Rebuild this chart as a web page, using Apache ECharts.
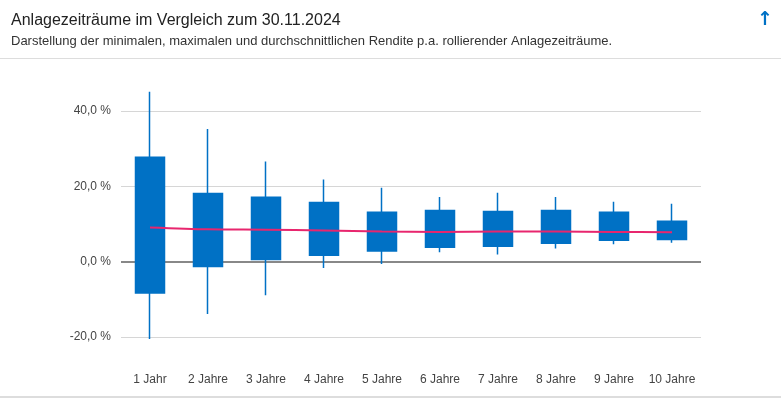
<!DOCTYPE html>
<html>
<head>
<meta charset="utf-8">
<script src="https://cdn.jsdelivr.net/npm/echarts@6/dist/echarts.min.js"></script>
<style>
  html, body { margin: 0; padding: 0; background: #fff; }
  #chart { width: 781px; height: 398px; }
</style>
</head>
<body>
<div id="chart"></div>
<script>
// Anlagezeiträume
const categories = ['1 Jahr', '2 Jahre', '3 Jahre', '4 Jahre', '5 Jahre', '6 Jahre', '7 Jahre', '8 Jahre', '9 Jahre', '10 Jahre']
// Rendite p.a. in %
const minValues = [-20.5, -13.9, -8.9, -1.7, -0.6, 2.5, 1.9, 3.5, 4.6, 5.0]
const lowValues = [-8.3, -1.3, 0.6, 1.7, 2.8, 3.8, 4.1, 4.9, 5.7, 5.9]
const highValues = [27.7, 18.1, 17.1, 15.7, 13.1, 13.6, 13.3, 13.6, 13.1, 10.7]
const maxValues = [45.1, 35.2, 26.6, 21.8, 19.6, 17.2, 18.3, 17.2, 15.9, 15.4]
const avgValues = [9.1, 8.6, 8.5, 8.3, 8.0, 7.9, 8.0, 8.0, 7.9, 7.8]
const yTicks = [-20, 0, 20, 40]

const font = '"Liberation Sans", Arial, sans-serif'
const blue = '#0071c5'

const chart = echarts.init(document.getElementById('chart'))
const option = {
  animation: false,
  title: {
    text: 'Anlagezeiträume im Vergleich zum 30.11.2024',
    subtext: 'Darstellung der minimalen, maximalen und durchschnittlichen Rendite p.a. rollierender Anlagezeiträume.',
    left: 6,
    top: 8,
    itemGap: 6,
    textStyle: { fontFamily: font, fontSize: 16, fontWeight: 'normal', color: '#222' },
    subtextStyle: { fontFamily: font, fontSize: 13, color: '#333' }
  },
  graphic: [
    { type: 'rect', shape: { x: 0, y: 58, width: 781, height: 1 }, style: { fill: '#ddd' } },
    { type: 'rect', shape: { x: 0, y: 396, width: 781, height: 2 }, style: { fill: '#ddd' } },
    { type: 'text', left: 757, top: 11, style: { text: '↑', font: 'bold 19px "DejaVu Sans"', fill: blue } }
  ],
  grid: { left: 121, right: 80, top: 111, bottom: 61 },
  xAxis: {
    type: 'category',
    data: categories,
    axisLine: { show: false },
    axisTick: { show: false },
    axisLabel: { interval: 0, margin: 37, fontFamily: font, fontSize: 12, color: '#444' }
  },
  yAxis: {
    type: 'value',
    min: yTicks[0],
    max: yTicks[yTicks.length - 1],
    interval: 20,
    axisLine: { show: false },
    axisTick: { show: false },
    axisLabel: {
      margin: 10,
      fontFamily: font,
      fontSize: 12,
      color: '#444',
      formatter: v => v.toFixed(1).replace('.', ',') + ' %'
    },
    splitLine: { lineStyle: { color: '#d6d6d6', width: 1 } }
  },
  series: [
    {
      // Spanne min/max als Docht, Box von low bis high
      type: 'candlestick',
      barWidth: 29,
      clip: false,
      z: 3,
      data: categories.map((c, i) => [lowValues[i], highValues[i], minValues[i], maxValues[i]]),
      itemStyle: {
        color: blue,
        color0: blue,
        borderColor: blue,
        borderColor0: blue,
        borderWidth: 1.5
      },
      silent: true,
      // Nulllinie hinter den Boxen
      markLine: {
        z: 1,
        silent: true,
        symbol: 'none',
        label: { show: false },
        lineStyle: { color: '#888', width: 2, type: 'solid' },
        data: [{ yAxis: 0 }]
      }
    },
    {
      type: 'line',
      data: avgValues,
      smooth: 0.3,
      symbol: 'none',
      lineStyle: { color: '#e8266e', width: 2 },
      z: 5,
      silent: true
    }
  ]
}
chart.setOption(option)
</script>
</body>
</html>
